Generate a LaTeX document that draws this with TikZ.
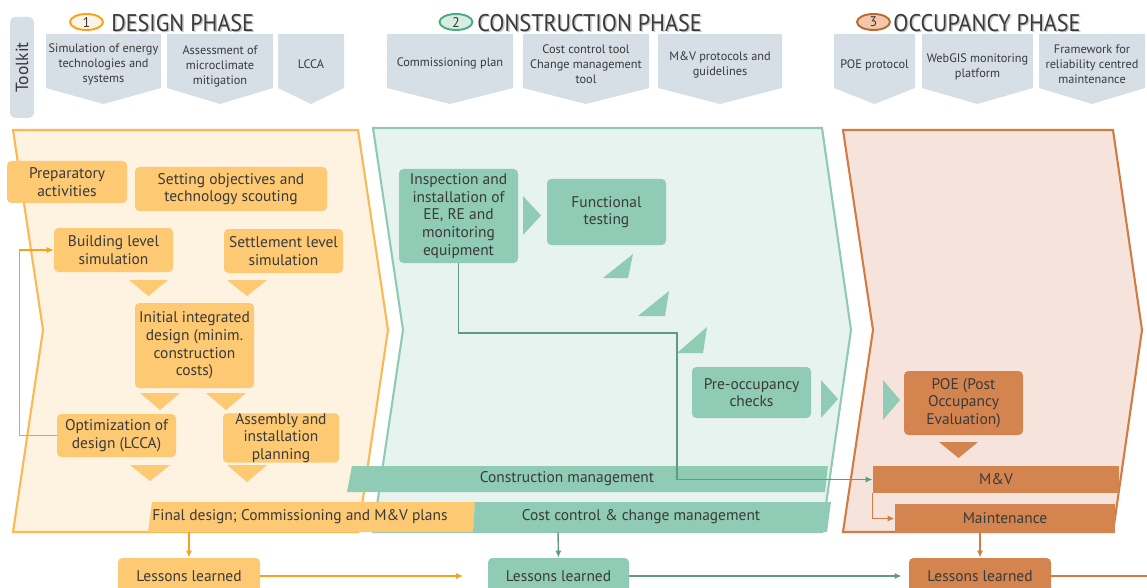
\documentclass[tikz,border=0pt]{standalone}
\usepackage{fontspec}
\setmainfont{PT Sans}
\newfontfamily\headfont[FakeStretch=0.92]{PT Sans}
\usetikzlibrary{arrows.meta,positioning,shapes.geometric}
\definecolor{cInk}{HTML}{3A3A3A}
\definecolor{cTool}{HTML}{D6DEE6}
\definecolor{cDesFill}{HTML}{FEF2E1}
\definecolor{cDesLine}{HTML}{FAB954}
\definecolor{cDesBox}{HTML}{FDC972}
\definecolor{cDesWire}{HTML}{F7A21E}
\definecolor{cConFill}{HTML}{E7F3EE}
\definecolor{cConLine}{HTML}{8FCBB4}
\definecolor{cConBox}{HTML}{8FCBB5}
\definecolor{cConWire}{HTML}{5E9B7F}
\definecolor{cOccFill}{HTML}{F6E4DC}
\definecolor{cOccLine}{HTML}{D27B43}
\definecolor{cOccBox}{HTML}{D4844F}
\definecolor{cNumA}{HTML}{FEF4E6}
\definecolor{cNumB}{HTML}{D5EDE2}
\definecolor{cNumBLine}{HTML}{4DAA80}
\definecolor{cNumC}{HTML}{F4C6AA}
\definecolor{cNumCLine}{HTML}{B66B2F}
\tikzset{
  wh/.style 2 args={minimum width=#1*0.02cm,minimum height=#2*0.02cm},
  box/.style={rounded corners=2.5pt,inner sep=0pt,align=center,text=cInk,
    font=\fontsize{8.8}{10}\selectfont},
  dbox/.style={box,fill=cDesBox},
  cbox/.style={box,fill=cConBox},
  obox/.style={box,fill=cOccBox},
  tooltxt/.style={align=center,text=cInk,inner sep=0pt,
    font=\fontsize{7}{8.5}\selectfont},
  bartxt/.style={text=cInk,inner sep=0pt,font=\fontsize{8.8}{10}\selectfont},
  phase/.style={inner sep=0pt,anchor=west,text=cInk,
    font=\headfont\fontsize{13.7}{14}\selectfont},
  phaseshade/.style={phase,text=black,opacity=0.22},
  num/.style={ellipse,line width=1.1pt,inner sep=0pt,wh={33}{16},text=cInk,
    font=\fontsize{8}{8}\selectfont},
  wire/.style={line width=0.8pt},
}
\begin{document}
\begin{tikzpicture}[x=0.02cm,y=-0.02cm,>={Latex[length=4pt,width=3.5pt]}]
  % Page frame
  \path[use as bounding box,clip] (0,0) rectangle (1147,588);
  %
  % Toolkit label
  \node[fill=cTool,rounded corners=3pt,inner sep=0pt,wh={101}{24},rotate=90,
    text=cInk,font=\fontsize{10}{10}\selectfont] (toolkit) at (22,67.5) {Toolkit};
  %
  % Phase titles
  \node[num,draw=cDesWire,fill=cNumA] (n1) at (86.5,22) {1};
  \node[phaseshade] (t1s) at (112.5,24.5) {DESIGN PHASE};
  \node[phase] (t1) at (111,23) {DESIGN PHASE};
  \node[num,draw=cNumBLine,fill=cNumB] (n2) at (456,22) {2};
  \node[phaseshade] (t2s) at (478.5,24.5) {CONSTRUCTION PHASE};
  \node[phase] (t2) at (477,23) {CONSTRUCTION PHASE};
  \node[num,draw=cNumCLine,fill=cNumC] (n3) at (873.5,22) {3};
  \node[phaseshade] (t3s) at (894.5,24.5) {OCCUPANCY PHASE};
  \node[phase] (t3) at (893,23) {OCCUPANCY PHASE};
  %
  % Toolkit arrows
  \fill[cTool] (46,34) -- (161,34) -- (161,88) -- (103.5,104) -- (46,88) -- cycle;
  \node[tooltxt] (tkA) at (103.5,64) {Simulation of energy\\technologies and\\systems};
  \fill[cTool] (167,34) -- (273,34) -- (273,88) -- (220,104) -- (167,88) -- cycle;
  \node[tooltxt] (tkB) at (220,66) {Assessment of\\microclimate\\mitigation};
  \fill[cTool] (278,34) -- (344,34) -- (344,88) -- (311,104) -- (278,88) -- cycle;
  \node[tooltxt] (tkC) at (311,64) {LCCA};
  \fill[cTool] (387,34) -- (513,34) -- (513,88) -- (450,104) -- (387,88) -- cycle;
  \node[tooltxt] (tkD) at (450,63) {Commissioning plan};
  \fill[cTool] (523,34) -- (649,34) -- (649,88) -- (586,104) -- (523,88) -- cycle;
  \node[tooltxt] (tkE) at (586,64) {Cost control tool\\Change management\\tool};
  \fill[cTool] (658,34) -- (782,34) -- (782,88) -- (720,104) -- (658,88) -- cycle;
  \node[tooltxt] (tkF) at (720,65) {M\&V protocols and\\guidelines};
  \fill[cTool] (834,34) -- (915,34) -- (915,88) -- (874.5,104) -- (834,88) -- cycle;
  \node[tooltxt] (tkG) at (874.5,65) {POE protocol};
  \fill[cTool] (922,34) -- (1033,34) -- (1033,88) -- (977.5,104) -- (922,88) -- cycle;
  \node[tooltxt] (tkH) at (977.5,67) {WebGIS monitoring\\platform};
  \fill[cTool] (1039,34) -- (1145,34) -- (1145,88) -- (1092,104) -- (1039,88) -- cycle;
  \node[tooltxt] (tkI) at (1092,64) {Framework for\\reliability centred\\maintenance};
  %
  % Phase chevrons
  \filldraw[fill=cDesFill,draw=cDesLine,line width=1.2pt]
    (13,130) -- (358,130) -- (388,330) -- (358,532) -- (13,532) -- (43,330) -- cycle;
  \filldraw[fill=cConFill,draw=cConLine,line width=1.2pt]
    (373,128) -- (822,128) -- (851,330) -- (822,532) -- (373,532) -- (403,330) -- cycle;
  \filldraw[fill=cOccFill,draw=cOccLine,line width=1.2pt]
    (843,130) -- (1113,130) -- (1142,330) -- (1113,532) -- (843,532) -- (873,330) -- cycle;
  %
  % Design phase
  \node[dbox,wh={120}{42}] (prep) at (67,182) {Preparatory\\activities};
  \node[dbox,wh={192}{44}] (setobj) at (231,189) {Setting objectives and\\technology scouting};
  \node[dbox,wh={119}{44}] (build) at (113.5,250) {Building level\\simulation};
  \node[dbox,wh={119}{44}] (settle) at (283.5,251) {Settlement level\\simulation};
  \node[dbox,wh={119}{85}] (init) at (194.5,345.5)
    {Initial integrated\\design (minim.\\construction\\costs)};
  \node[dbox,wh={119}{43}] (optim) at (116.5,435.5) {Optimization of\\design (LCCA)};
  \node[dbox,wh={116}{47}] (assem) at (281,438) {Assembly and\\installation\\planning};
  \fill[cDesBox] (129,280) -- (168,280) -- (148.5,296) -- cycle;
  \fill[cDesBox] (227,280) -- (267,280) -- (247,296) -- cycle;
  \fill[cDesBox] (140,393) -- (180,393) -- (160,410) -- cycle;
  \fill[cDesBox] (206,393) -- (246,393) -- (226,410) -- cycle;
  \fill[cDesBox] (130,465) -- (170,465) -- (150,481) -- cycle;
  \fill[cDesBox] (227,465) -- (267,465) -- (247,482) -- cycle;
  %
  % Construction phase
  \node[cbox,wh={119}{94}] (insp) at (458.5,216)
    {Inspection and\\installation of\\EE, RE and\\monitoring\\equipment};
  \node[cbox,wh={119}{66}] (func) at (606.5,212) {Functional\\testing};
  \node[cbox,wh={119}{51}] (preocc) at (751.5,392.5) {Pre-occupancy\\checks};
  \fill[cConBox] (523,196) -- (541,215.5) -- (523,235) -- cycle;
  \fill[cConBox] (603,278) -- (633,254) -- (628,278) -- cycle;
  \fill[cConBox] (638,316) -- (669,291) -- (665,316) -- cycle;
  \fill[cConBox] (677,353) -- (707,327) -- (703,353) -- cycle;
  \fill[cConBox] (821,380) -- (838,399) -- (821,418) -- cycle;
  \fill[cConBox] (883,380) -- (900,400) -- (883,420) -- cycle;
  %
  % Occupancy phase
  \node[obox,wh={119}{64}] (poe) at (963.5,403) {POE (Post\\Occupancy\\Evaluation)};
  \fill[cOccBox] (939,442) -- (978,442) -- (958.5,458) -- cycle;
  %
  % Management bars
  \fill[cConBox] (352,466) -- (828,466) -- (825,492) -- (347,492) -- cycle;
  \node[bartxt] (cmgmt) at (567,479) {Construction management};
  \fill[cDesBox] (152,502) -- (475,502) -- (473,532) -- (148,532) -- cycle;
  \node[bartxt] (fdes) at (300,517) {Final design; Commissioning and M\&V plans};
  \fill[cConBox] (475,502) -- (831,502) -- (827,532) -- (473,532) -- cycle;
  \node[bartxt] (ccm) at (641,517) {Cost control \& change management};
  \node[obox,rounded corners=0pt,wh={246}{27}] (mv) at (996,479.5) {M\&V};
  \node[obox,rounded corners=0pt,wh={220}{29}] (maint) at (1005,518.5) {Maintenance};
  \coordinate (fdbot) at (189,532);
  \coordinate (ccmbot) at (558,532);
  \coordinate (bendA) at (677,333);
  \coordinate (rimC) at (1147,576);
  %
  % Lessons learned
  \node[dbox,wh={142}{36}] (lessA) at (189,576) {Lessons learned};
  \node[cbox,wh={141}{36}] (lessB) at (558.5,576) {Lessons learned};
  \node[obox,wh={142}{36}] (lessC) at (980,576) {Lessons learned};
  %
  % Connectors
  \draw[wire,cDesWire,->] (optim.west) -- ++(-37,0) |- (build.west);
  \draw[wire,cConWire,->] (insp.south) |- (bendA) |- (mv.west);
  \draw[wire,cOccLine,->] (mv.south west) |- (maint.west);
  \draw[wire,cDesWire,->] (fdbot) -- (lessA.north);
  \draw[wire,cConWire,->] (ccmbot) -- (lessB.north);
  \draw[wire,cOccLine,->] (maint.south -| lessC.north) -- (lessC.north);
  \draw[wire,cDesWire,->,shorten >=14pt] (lessA) -- (lessB);
  \draw[wire,cConWire,->,shorten >=4pt] (lessB) -- (lessC);
  \draw[wire,cOccLine] (lessC) -- (rimC);
\end{tikzpicture}
\end{document}
